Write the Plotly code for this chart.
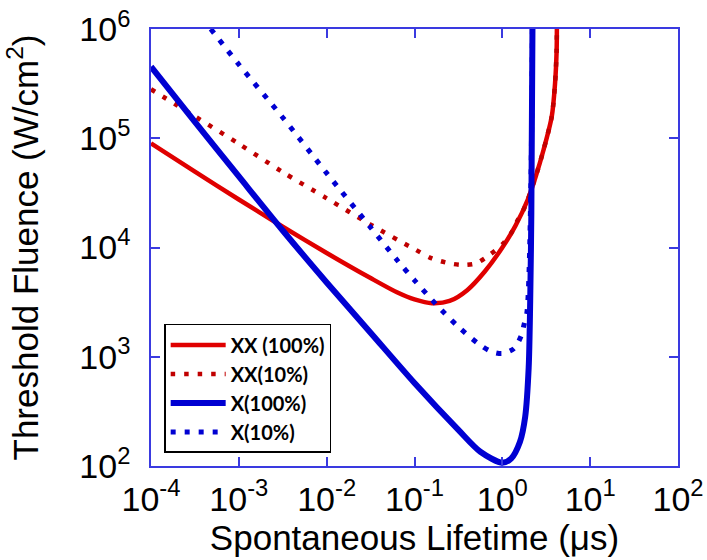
import plotly.graph_objects as go

# ---- data (x: spontaneous lifetime in us, y: threshold fluence in W/cm^2)
tau_xx100 = [1e-4, 3.16e-4, 1e-3, 3.16e-3, 1e-2, 3.16e-2, 6.31e-2, 0.1, 0.158, 0.251,
             0.398, 0.631, 1.0, 1.413, 1.950, 2.399, 2.938, 3.656, 3.981, 4.150, 4.178]
f_xx100 = [8.99e4, 4.95e4, 2.75e4, 1.55e4, 8.91e3, 5.25e3, 3.89e3, 3.35e3, 3.09e3, 3.24e3,
           4.07e3, 6.03e3, 1.0e4, 1.585e4, 2.75e4, 4.47e4, 7.76e4, 1.585e5, 3.16e5, 6.31e5, 1e6]

tau_xx10 = [1e-4, 3.16e-4, 1e-3, 3.16e-3, 1e-2, 3.16e-2, 0.1, 0.158, 0.251, 0.355, 0.501,
            0.708, 1.0, 1.259, 1.462, 1.738, 1.950, 2.399, 2.938, 3.656, 3.981, 4.150, 4.178]
f_xx10 = [2.81e5, 1.585e5, 8.91e4, 4.90e4, 2.82e4, 1.62e4, 9.66e3, 7.94e3, 7.16e3, 6.92e3, 7.16e3,
          8.51e3, 1.07e4, 1.35e4, 1.72e4, 2.20e4, 2.75e4, 4.47e4, 7.76e4, 1.585e5, 3.16e5, 6.31e5, 1e6]

tau_x100 = [1e-4, 3.16e-4, 1e-3, 3.16e-3, 1e-2, 3.16e-2, 0.1, 0.316, 0.562, 1.0, 1.259,
            1.585, 1.820, 1.995, 2.075, 2.138, 2.203]
f_x100 = [4.52e5, 1.41e5, 4.47e4, 1.43e4, 4.79e3, 1.66e3, 575, 214, 135, 107, 117,
          166, 282, 794, 3162, 2.0e4, 1e6]

tau_x10 = [4.79e-4, 1e-3, 3.16e-3, 1e-2, 3.16e-2, 6.56e-2, 0.1, 0.178, 0.316, 0.545, 0.740,
           1.0, 1.361, 1.637, 1.770, 1.901, 1.982, 2.042, 2.113, 2.163, 2.198]
f_x10 = [1e6, 4.73e5, 1.55e5, 4.79e4, 1.53e4, 7.41e3, 5.01e3, 2.99e3, 1.88e3, 1.30e3, 1.12e3,
         1.07e3, 1.19e3, 1.55e3, 1.98e3, 2.51e3, 4.17e3, 8.91e3, 3.72e4, 1.585e5, 1e6]

x_tickvals = [1e-4, 1e-3, 1e-2, 1e-1, 1e0, 1e1, 1e2]
x_ticktext = ["10<sup>-4</sup>", "10<sup>-3</sup>", "10<sup>-2</sup>", "10<sup>-1</sup>",
              "10<sup>0</sup>", "10<sup>1</sup>", "10<sup>2</sup>"]
y_tickvals = [1e2, 1e3, 1e4, 1e5, 1e6]
y_ticktext = ["10<sup>2</sup>", "10<sup>3</sup>", "10<sup>4</sup>", "10<sup>5</sup>", "10<sup>6</sup>"]

RED = "#E00000"
DARKRED = "#C00000"
BLUE = "#0000D2"
AXIS = "#3a3ae0"

fig = go.Figure()
fig.add_trace(go.Scatter(x=tau_xx100, y=f_xx100, mode="lines", name="XX (100%)", legendrank=1,
                         line=dict(color=RED, width=4.5, shape="spline", smoothing=0.8)))
fig.add_trace(go.Scatter(x=tau_xx10, y=f_xx10, mode="lines", name="XX(10%)", legendrank=2,
                         line=dict(color=DARKRED, width=4.5, dash="4.5px,9px", shape="spline", smoothing=0.8)))
fig.add_trace(go.Scatter(x=tau_x10, y=f_x10, mode="lines", name="X(10%)", legendrank=4,
                         line=dict(color=BLUE, width=5, dash="5px,9px", shape="spline", smoothing=0.8)))
fig.add_trace(go.Scatter(x=tau_x100, y=f_x100, mode="lines", name="X(100%)", legendrank=3,
                         line=dict(color=BLUE, width=6, shape="spline", smoothing=0.8)))

tickfont = dict(family="Liberation Sans, Arial, sans-serif", size=34, color="black")
titlefont = dict(family="Liberation Sans, Arial, sans-serif", size=35, color="black")

fig.update_xaxes(type="log", range=[-4, 2], tickvals=x_tickvals, ticktext=x_ticktext,
                 ticks="inside", ticklen=9, tickwidth=1.5, tickcolor=AXIS,
                 showline=True, linecolor=AXIS, linewidth=1.5, mirror="ticks",
                 showgrid=False, zeroline=False, tickfont=tickfont, automargin=False,
                 ticklabelstandoff=2, ticklabeloverflow="allow",
                 title=dict(text="Spontaneous Lifetime (μs)", font=titlefont, standoff=6))
fig.update_yaxes(type="log", range=[2, 6], tickvals=y_tickvals, ticktext=y_ticktext,
                 ticks="inside", ticklen=9, tickwidth=1.5, tickcolor=AXIS,
                 showline=True, linecolor=AXIS, linewidth=1.5, mirror="ticks",
                 showgrid=False, zeroline=False, tickfont=tickfont, automargin=False,
                 ticklabelstandoff=12, ticklabeloverflow="allow",
                 title=dict(text="Threshold Fluence (W/cm<sup>2</sup>)", font=titlefont, standoff=30))

fig.update_layout(
    width=707, height=560,
    margin=dict(l=151, r=29, t=29, b=94),
    plot_bgcolor="white", paper_bgcolor="white",
    showlegend=True,
    legend=dict(x=0.025, y=0.03, xanchor="left", yanchor="bottom",
                bgcolor="white", bordercolor="black", borderwidth=1.5,
                font=dict(family="Lato, sans-serif", size=20, color="black", weight="bold"),
                itemwidth=55, tracegroupgap=0),
)

# remove the default 8px page margin so the 707x560 figure fills the window exactly
fig.write_html("out.html", config={"displayModeBar": False},
               post_script="document.body.style.margin='0';")
